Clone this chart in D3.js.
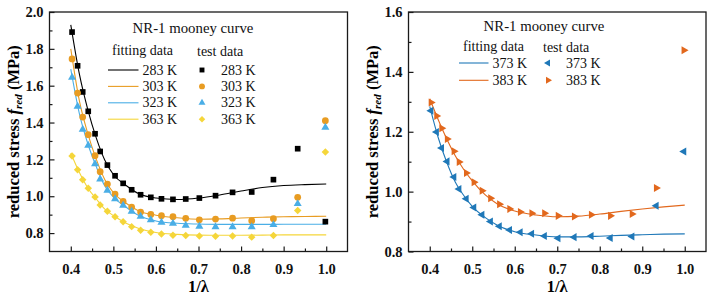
<!DOCTYPE html>
<html>
<head>
<meta charset="utf-8">
<script src="https://cdn.jsdelivr.net/npm/d3@7/dist/d3.min.js"></script>
<style>
    body { margin: 0; background: #fff; }
    svg { display: block; font-family: "Liberation Serif", "Times New Roman", serif; }
</style>
</head>
<body>
<div id="chart"></div>
<script>
// x positions of the test points (1/lambda), shared by every series
const xs = [0.403, 0.416, 0.428, 0.441, 0.457, 0.469, 0.486, 0.504, 0.523, 0.543, 0.564,
    0.588, 0.613, 0.640, 0.670, 0.702, 0.740, 0.780, 0.825, 0.876, 0.933, 0.998];

// test data, left panel
const test283 = [1.891, 1.708, 1.566, 1.461, 1.339, 1.243, 1.169, 1.111, 1.070, 1.035, 1.008,
    0.994, 0.986, 0.983, 0.985, 0.990, 1.003, 1.021, 1.023, 1.090, 1.258, 0.862];
const test303 = [1.745, 1.560, 1.430, 1.334, 1.220, 1.133, 1.066, 1.012, 0.972, 0.941, 0.914,
    0.901, 0.894, 0.889, 0.880, 0.872, 0.876, 0.881, 0.867, 0.878, 0.994, 1.410];
const test323 = [1.645, 1.488, 1.363, 1.276, 1.176, 1.093, 1.032, 0.985, 0.950, 0.918, 0.890,
    0.871, 0.858, 0.852, 0.842, 0.836, 0.834, 0.834, 0.834, 0.845, 0.959, 1.374];
const test363 = [1.218, 1.144, 1.090, 1.043, 0.996, 0.952, 0.918, 0.889, 0.862, 0.835, 0.815,
    0.805, 0.795, 0.788, 0.787, 0.784, 0.783, 0.784, 0.778, 0.787, 0.923, 1.240];

// test data, right panel
const test373 = [1.270, 1.199, 1.146, 1.101, 1.049, 1.009, 0.976, 0.947, 0.923, 0.900, 0.884,
    0.872, 0.864, 0.859, 0.852, 0.844, 0.848, 0.852, 0.845, 0.850, 0.953, 1.134];
const test383 = [1.298, 1.253, 1.212, 1.176, 1.135, 1.099, 1.062, 1.031, 1.003, 0.978, 0.958,
    0.942, 0.932, 0.928, 0.928, 0.919, 0.917, 0.923, 0.919, 0.925, 1.012, 1.472];

// fitting curves at these x values
const fitX = [0.40, 0.42, 0.44, 0.46, 0.48, 0.50, 0.53, 0.56, 0.60, 0.65, 0.70, 0.75, 0.80, 0.85, 0.90, 0.95, 1.00];
const fit283 = [1.930, 1.665, 1.470, 1.315, 1.195, 1.118, 1.058, 1.013, 0.990, 0.982, 0.990, 1.007, 1.028, 1.047, 1.058, 1.063, 1.066];
const fit303 = [1.800, 1.520, 1.340, 1.200, 1.090, 1.020, 0.962, 0.920, 0.897, 0.883, 0.875, 0.877, 0.882, 0.886, 0.889, 0.890, 0.891];
const fit323 = [1.690, 1.450, 1.285, 1.160, 1.055, 0.995, 0.940, 0.895, 0.866, 0.853, 0.849, 0.847, 0.847, 0.847, 0.848, 0.848, 0.848];
const fit363 = [1.235, 1.130, 1.045, 0.985, 0.930, 0.895, 0.853, 0.825, 0.803, 0.793, 0.789, 0.788, 0.788, 0.789, 0.790, 0.790, 0.790];
const fit373 = [1.285, 1.180, 1.098, 1.032, 0.987, 0.951, 0.914, 0.887, 0.866, 0.855, 0.849, 0.849, 0.851, 0.854, 0.856, 0.858, 0.859];
const fit383 = [1.310, 1.240, 1.176, 1.120, 1.074, 1.036, 0.990, 0.958, 0.935, 0.922, 0.916, 0.918, 0.925, 0.934, 0.942, 0.949, 0.955];

// axis ticks
const xTicks = [0.4, 0.5, 0.6, 0.7, 0.8, 0.9, 1.0];
const xMinor = [0.45, 0.55, 0.65, 0.75, 0.85, 0.95];
const yTicksLeft = [0.8, 1.0, 1.2, 1.4, 1.6, 1.8, 2.0];
const yMinorLeft = [0.9, 1.1, 1.3, 1.5, 1.7, 1.9];
const yTicksRight = [0.8, 1.0, 1.2, 1.4, 1.6];
const yMinorRight = [0.9, 1.1, 1.3, 1.5];

const title = "NR-1 mooney curve";

const width = 714, height = 299;

const svg = d3.select("#chart")
    .append("svg")
    .attr("width", width)
    .attr("height", height);

const panels = [
    {
        left: 49.5, right: 347.5, top: 12, bottom: 251.5,
        yDomain: [0.7, 2.0], yTicks: yTicksLeft, yMinor: yMinorLeft,
        legend: { titleX: 193, titleY: 33, headY: 55, rowY: 70, rowStep: 16.4, lineX: 108, textX: 142.5, markX: 202, text2X: 221 },
        series: [
            { name: "283 K", test: test283, fit: fit283, color: "#000000", symbol: "square" },
            { name: "303 K", test: test303, fit: fit303, color: "#e89c22", symbol: "circle" },
            { name: "323 K", test: test323, fit: fit323, color: "#4aaee6", symbol: "triangleUp" },
            { name: "363 K", test: test363, fit: fit363, color: "#f5d63a", symbol: "diamond" }
        ]
    },
    {
        left: 408.5, right: 706, top: 12, bottom: 251.5,
        yDomain: [0.8, 1.6], yTicks: yTicksRight, yMinor: yMinorRight,
        legend: { titleX: 544, titleY: 31, headY: 51, rowY: 63, rowStep: 17.3, lineX: 459, textX: 492.5, markX: 548, text2X: 566 },
        series: [
            { name: "373 K", test: test373, fit: fit373, color: "#1f78b8", symbol: "triangleLeft" },
            { name: "383 K", test: test383, fit: fit383, color: "#e2681d", symbol: "triangleRight" }
        ]
    }
];

// Marker path by name
const marker = (name, scale) => {
    const s = scale || 1;
    if (name === "square") return { d: d3.symbol(d3.symbolSquare, 32 * s)(), rot: 0 };
    if (name === "circle") return { d: d3.symbol(d3.symbolCircle, 36 * s)(), rot: 0 };
    if (name === "diamond") return { d: d3.symbol(d3.symbolSquare, 28 * s)(), rot: 45 };
    if (name === "triangleUp") return { d: d3.symbol(d3.symbolTriangle, 28 * s)(), rot: 0 };
    if (name === "triangleLeft") return { d: d3.symbol(d3.symbolTriangle, 28 * s)(), rot: -90 };
    return { d: d3.symbol(d3.symbolTriangle, 28 * s)(), rot: 90 };
};

panels.forEach(p => {
    const x = d3.scaleLinear().domain([0.35, 1.05]).range([p.left, p.right]);
    const y = d3.scaleLinear().domain(p.yDomain).range([p.bottom, p.top]);

    const g = svg.append("g");

    // Frame
    g.append("rect")
        .attr("x", p.left).attr("y", p.top)
        .attr("width", p.right - p.left).attr("height", p.bottom - p.top)
        .attr("fill", "none").attr("stroke", "#1a1a1a").attr("stroke-width", 1.3);

    // X axis (ticks inside)
    const xAxis = g.append("g")
        .attr("transform", `translate(0,${p.bottom})`)
        .call(d3.axisBottom(x).tickValues(xTicks).tickSize(-5).tickPadding(6).tickFormat(d3.format(".1f")));
    g.append("g")
        .attr("transform", `translate(0,${p.bottom})`)
        .call(d3.axisBottom(x).tickValues(xMinor).tickSize(-3).tickFormat(""));

    // Y axis (ticks inside)
    const yAxis = g.append("g")
        .attr("transform", `translate(${p.left},0)`)
        .call(d3.axisLeft(y).tickValues(p.yTicks).tickSize(-5).tickPadding(6).tickFormat(d3.format(".1f")));
    g.append("g")
        .attr("transform", `translate(${p.left},0)`)
        .call(d3.axisLeft(y).tickValues(p.yMinor).tickSize(-3).tickFormat(""));

    g.selectAll(".domain").remove();
    g.selectAll(".tick line").attr("stroke", "#1a1a1a").attr("stroke-width", 1.2);
    g.selectAll(".tick text")
        .attr("fill", "#111")
        .style("font-family", "'Liberation Serif', serif")
        .style("font-size", "14.5px")
        .style("font-weight", "bold");
    xAxis.selectAll(".tick text").attr("y", 12);

    // Axis titles
    g.append("text")
        .attr("x", (p.left + p.right) / 2)
        .attr("y", 292)
        .attr("text-anchor", "middle")
        .style("font-size", "16.5px").style("font-weight", "bold")
        .text("1/λ");

    const yLab = g.append("text")
        .attr("transform", `translate(${p.left - 31},${(p.top + p.bottom) / 2}) rotate(-90)`)
        .attr("text-anchor", "middle")
        .style("font-size", "16.5px").style("font-weight", "bold");
    yLab.append("tspan").text("reduced stress ");
    yLab.append("tspan").style("font-style", "italic").text("f");
    yLab.append("tspan").attr("dy", 3.5).style("font-size", "11px").style("font-style", "italic").text("red");
    yLab.append("tspan").attr("dy", -3.5).text(" (MPa)");

    // Fitting lines
    const line = d3.line()
        .x((d, i) => x(fitX[i]))
        .y(d => y(d))
        .curve(d3.curveMonotoneX);

    p.series.forEach(s => {
        g.append("path")
            .datum(s.fit)
            .attr("d", line)
            .attr("fill", "none")
            .attr("stroke", s.color)
            .attr("stroke-width", 1.1);
    });

    // Test points
    p.series.forEach(s => {
        const m = marker(s.symbol);
        g.append("g")
            .selectAll("path")
            .data(s.test)
            .join("path")
            .attr("d", m.d)
            .attr("transform", (d, i) => `translate(${x(xs[i])},${y(d)}) rotate(${m.rot})`)
            .attr("fill", s.color);
    });

    // Legend
    const L = p.legend;
    const leg = g.append("g").style("font-size", "14px").attr("fill", "#111");
    leg.append("text").attr("x", L.titleX).attr("y", L.titleY)
        .attr("text-anchor", "middle").style("font-size", "14.8px").text(title);
    leg.append("text").attr("x", L.lineX + 4).attr("y", L.headY).text("fitting data");
    leg.append("text").attr("x", L.markX - 5).attr("y", L.headY + 1).text("test data");

    p.series.forEach((s, i) => {
        const cy = L.rowY + i * L.rowStep;
        leg.append("line")
            .attr("x1", L.lineX).attr("x2", L.textX - 4)
            .attr("y1", cy).attr("y2", cy)
            .attr("stroke", s.color).attr("stroke-width", 1.1);
        leg.append("text").attr("x", L.textX).attr("y", cy + 4.5).text(s.name);
        const m = marker(s.symbol, 0.75);
        leg.append("path")
            .attr("d", m.d)
            .attr("transform", `translate(${L.markX},${cy}) rotate(${m.rot})`)
            .attr("fill", s.color);
        leg.append("text").attr("x", L.text2X).attr("y", cy + 4.5).text(s.name);
    });
});
</script>
</body>
</html>
